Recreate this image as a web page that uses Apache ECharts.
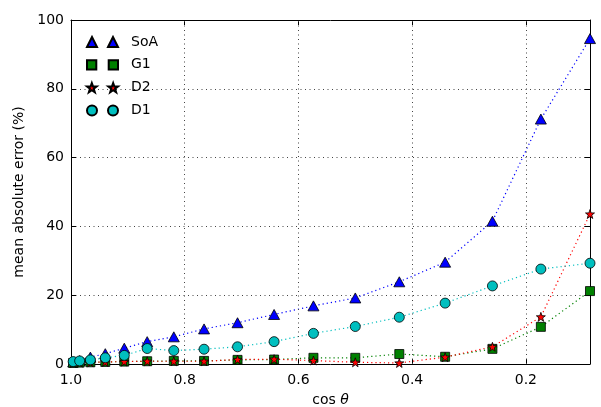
<!DOCTYPE html>
<html>
<head>
<meta charset="utf-8">
<script src="https://cdn.jsdelivr.net/npm/echarts@6/dist/echarts.min.js"></script>
<style>
html,body{margin:0;padding:0;background:#fff;}
#chart{width:601px;height:407px;}
</style>
</head>
<body>
<div id="chart"></div>
<script>
// cos(theta) for theta = 5..85 degrees
var cosTheta = [0.9962, 0.9848, 0.9659, 0.9397, 0.9063, 0.8660, 0.8192, 0.7660, 0.7071, 0.6428, 0.5736, 0.5000, 0.4226, 0.3420, 0.2588, 0.1736, 0.0872];
var soa = [0.6, 1.0, 2.0, 3.0, 4.6, 6.5, 7.9, 10.2, 12.0, 14.4, 16.9, 19.2, 23.9, 29.6, 41.5, 71.2, 94.6];
var g1  = [0.3, 0.4, 0.5, 0.6, 0.7, 0.8, 0.9, 0.9, 1.2, 1.3, 1.8, 1.8, 2.9, 2.1, 4.4, 10.8, 21.2];
var d2  = [0.3, 0.4, 0.5, 0.6, 0.7, 0.8, 0.8, 0.8, 1.3, 1.4, 1.0, 0.5, 0.3, 2.0, 5.0, 13.7, 43.6];
var d1  = [0.7, 0.9, 1.2, 1.8, 2.5, 4.5, 3.9, 4.3, 5.0, 6.5, 8.9, 10.9, 13.6, 17.7, 22.7, 27.6, 29.3];
var seriesNames = ['SoA', 'G1', 'D2', 'D1'];
var xTicks = [1.0, 0.8, 0.6, 0.4, 0.2];
var yTicks = [0, 20, 40, 60, 80, 100];

var xMin = 0.0872, xMax = 1.0;
var FONT = 'DejaVu Sans';

function pairs(ys) { return cosTheta.map(function (x, i) { return [x, ys[i]]; }); }

var STAR = 'path://M5,0L6.18,3.38L9.76,3.45L6.9,5.62L7.94,9.05L5,7L2.06,9.05L3.1,5.62L0.24,3.45L3.82,3.38Z';
var ICONS = {
  SoA: 'path://M0,10L5,0L10,10ZM21,10L26,0L31,10Z',
  G1: 'path://M0.5,0.5H9.5V9.5H0.5ZM21.5,0.5H30.5V9.5H21.5Z',
  D2: 'path://M5,0.5L6.18,3.88L9.76,3.95L6.9,6.12L7.94,9.55L5,7.5L2.06,9.55L3.1,6.12L0.24,3.95L3.82,3.88ZM26,0.5L27.18,3.88L30.76,3.95L27.9,6.12L28.94,9.55L26,7.5L23.06,9.55L24.1,6.12L21.24,3.95L24.82,3.88Z',
  D1: 'path://M0,5A5,5,0,1,1,10,5A5,5,0,1,1,0,5ZM21,5A5,5,0,1,1,31,5A5,5,0,1,1,21,5Z'
};

var colors = { SoA: '#0000ff', G1: '#008000', D2: '#ff0000', D1: '#00bfbf' };
var symbols = { SoA: 'triangle', G1: 'rect', D2: STAR, D1: 'circle' };
var sizes = { SoA: [11, 10], G1: 9, D2: 9, D1: 10 };
var dataMap = { SoA: soa, G1: g1, D2: d2, D1: d1 };

var gridLineStyle = { color: '#444', width: 1, type: [1, 3.5] };

var series = seriesNames.map(function (n) {
  return {
    name: n, type: 'line', xAxisIndex: 0, yAxisIndex: 0,
    data: pairs(dataMap[n]),
    symbol: symbols[n], symbolSize: sizes[n],
    showAllSymbol: true,
    clip: true,
    itemStyle: { color: colors[n], borderColor: '#000', borderWidth: 0.8 },
    lineStyle: { color: colors[n], width: 1.2, type: [1.2, 3] },
    emphasis: { disabled: true },
    animation: false
  };
});

// vertical grid lines at tick values
series.push({
  type: 'line', xAxisIndex: 0, yAxisIndex: 0, data: [], silent: true,
  markLine: {
    symbol: 'none', silent: true, animation: false, label: { show: false },
    lineStyle: gridLineStyle,
    data: [0.2, 0.4, 0.6, 0.8].map(function (v) { return { xAxis: v }; })
  }
});

var chart = echarts.init(document.getElementById('chart'), null, { renderer: 'canvas' });
chart.setOption({
  animation: false,
  backgroundColor: '#fff',
  textStyle: { fontFamily: FONT },
  grid: { left: 71, right: 11, top: 20, bottom: 43, containLabel: false, outerBoundsMode: 'none' },
  legend: {
    orient: 'vertical', left: 86, top: 35, padding: 0,
    itemWidth: 31, itemHeight: 10, itemGap: 8.8,
    selectedMode: false,
    textStyle: { fontFamily: FONT, fontSize: 14, color: '#000', padding: [0, 0, 0, 8] },
    data: seriesNames.map(function (n) { return { name: n, icon: ICONS[n] }; })
  },
  xAxis: [{
    type: 'value', inverse: true, min: xMin, max: xMax, position: 'bottom',
    name: '{a|cos }{b|θ}', nameLocation: 'middle', nameGap: 29,
    nameTextStyle: { rich: { a: { fontFamily: FONT, fontSize: 14, color: '#000' }, b: { fontFamily: FONT, fontSize: 14, fontStyle: 'italic', color: '#000' } } },
    axisLine: { show: true, onZero: false, lineStyle: { color: '#000', width: 1 } },
    axisTick: { show: true, inside: true, length: 5, customValues: xTicks, lineStyle: { color: '#000' } },
    axisLabel: { customValues: xTicks, margin: 9, fontFamily: FONT, fontSize: 14, color: '#000', formatter: function (v) { return v.toFixed(1); } },
    splitLine: { show: false }
  }, {
    type: 'value', inverse: true, min: xMin, max: xMax, position: 'top',
    axisLine: { show: true, onZero: false, lineStyle: { color: '#000', width: 1 } },
    axisTick: { show: true, inside: true, length: 5, customValues: xTicks, lineStyle: { color: '#000' } },
    axisLabel: { show: false },
    splitLine: { show: false }
  }],
  yAxis: [{
    type: 'value', min: yTicks[0], max: yTicks[yTicks.length - 1], interval: 20, position: 'left',
    name: 'mean absolute error (%)', nameLocation: 'middle', nameGap: 42,
    nameTextStyle: { fontFamily: FONT, fontSize: 14, color: '#000' },
    axisLine: { show: true, onZero: false, lineStyle: { color: '#000', width: 1 } },
    axisTick: { show: true, inside: true, length: 5, lineStyle: { color: '#000' } },
    axisLabel: { margin: 7, fontFamily: FONT, fontSize: 14, color: '#000' },
    splitLine: { show: true, lineStyle: gridLineStyle }
  }, {
    type: 'value', min: yTicks[0], max: yTicks[yTicks.length - 1], interval: 20, position: 'right',
    axisLine: { show: true, onZero: false, lineStyle: { color: '#000', width: 1 } },
    axisTick: { show: true, inside: true, length: 5, lineStyle: { color: '#000' } },
    axisLabel: { show: false },
    splitLine: { show: false }
  }],
  series: series
});
</script>
</body>
</html>
